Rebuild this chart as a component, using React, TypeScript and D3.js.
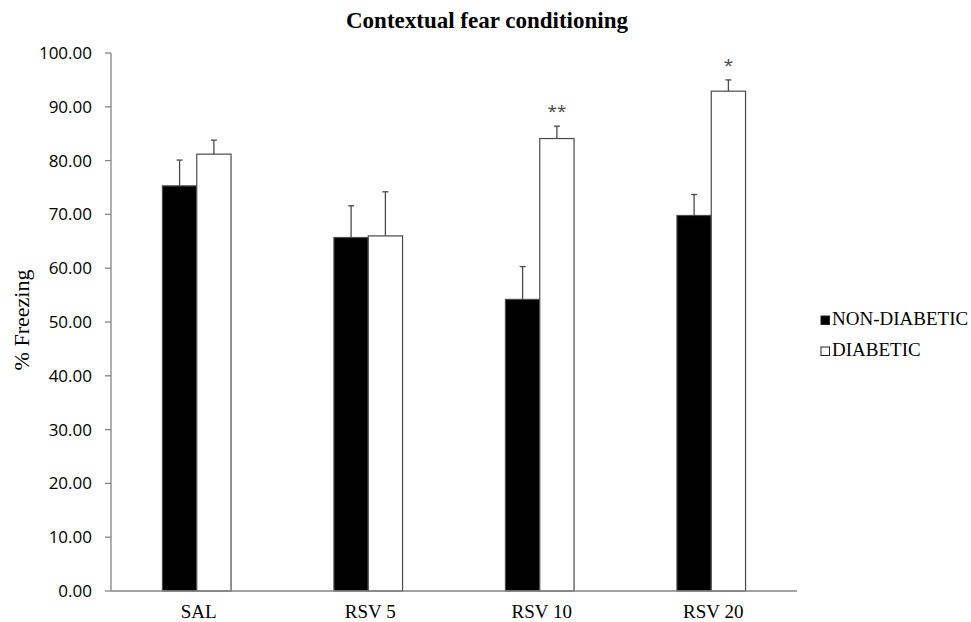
import React from 'react';
import * as d3 from 'd3';

// data
const categories = ['SAL', 'RSV 5', 'RSV 10', 'RSV 20'];
const groups = ['NON-DIABETIC', 'DIABETIC'];
const nonDiabetic = [75.3, 65.7, 54.2, 69.8];
const nonDiabeticErr = [4.8, 5.9, 6.1, 3.9];
const diabetic = [81.2, 66.0, 84.1, 92.9];
const diabeticErr = [2.6, 8.2, 2.3, 2.1];
const significance = ['', '', '**', '*'];
const yTicks = d3.range(0, 101, 10);

const W = 971;
const H = 622;
const margin = { top: 53, right: 174, bottom: 31, left: 111 };

const serif = '"Liberation Serif", "Times New Roman", serif';
const sans = '"Open Sans", "Liberation Sans", sans-serif';
const axisColor = '#858585';
const barStroke = '#4a4a4a';

export default function App() {
  const w = W - margin.left - margin.right;
  const h = H - margin.top - margin.bottom;

  const x = d3.scaleBand<string>().domain(categories).range([0, w]).paddingInner(0).paddingOuter(0);
  const x1 = d3.scaleBand<string>().domain(groups).range([0, x.bandwidth() * 0.4]);
  const y = d3.scaleLinear().domain([0, 100]).range([h, 0]);
  const off = (x.bandwidth() - x1.range()[1]) / 2;

  const series = [
    { key: groups[0], vals: nonDiabetic, errs: nonDiabeticErr, fill: '#000000' },
    { key: groups[1], vals: diabetic, errs: diabeticErr, fill: '#ffffff' },
  ];

  return (
    <svg width={W} height={H} style={{ position: 'absolute', left: 0, top: 0, background: '#fff' }}>
      <text x={487} y={28} textAnchor="middle" fontFamily={serif} fontWeight="bold" fontSize={23}>
        Contextual fear conditioning
      </text>

      <g transform={`translate(${margin.left},${margin.top})`}>
        {series.map(s => (
          <g key={s.key}>
            {categories.map((c, i) => {
              const bx = (x(c) as number) + off + (x1(s.key) as number);
              const bw = x1.bandwidth();
              const cx = bx + bw / 2;
              return (
                <g key={c}>
                  <line x1={cx} x2={cx} y1={y(s.vals[i])} y2={y(s.vals[i] + s.errs[i])} stroke={barStroke} strokeWidth={1.3} />
                  <line x1={cx - 3} x2={cx + 3} y1={y(s.vals[i] + s.errs[i])} y2={y(s.vals[i] + s.errs[i])} stroke={barStroke} strokeWidth={1.3} />
                  <rect x={bx} y={y(s.vals[i])} width={bw} height={h - y(s.vals[i])} fill={s.fill} stroke={barStroke} strokeWidth={1.2} />
                </g>
              );
            })}
          </g>
        ))}

        {categories.map((c, i) => significance[i] ? (
          <text key={c} x={(x(c) as number) + off + (x1(groups[1]) as number) + x1.bandwidth() / 2}
            y={y(diabetic[i] + diabeticErr[i]) - 9} textAnchor="middle" fontFamily={sans} fontSize={17} fill="#444">
            {significance[i]}
          </text>
        ) : null)}

        <line x1={0} x2={w} y1={h} y2={h} stroke={axisColor} strokeWidth={1.3} />
        <line x1={0} x2={0} y1={0} y2={h} stroke={axisColor} strokeWidth={1.3} />
        {yTicks.map(t => (
          <g key={t} transform={`translate(0,${y(t)})`}>
            <line x1={-6} x2={0} stroke={axisColor} strokeWidth={1.3} />
            <text x={-19} dy="0.35em" textAnchor="end" fontFamily={sans} fontSize={17} fill="#000">
              {t.toFixed(2)}
            </text>
          </g>
        ))}

        {categories.map(c => (
          <text key={c} x={(x(c) as number) + x.bandwidth() / 2 + 2} y={h + 27} textAnchor="middle" fontFamily={serif} fontSize={19}>
            {c}
          </text>
        ))}
      </g>

      <text transform={`translate(29,${margin.top + h / 2 - 2}) rotate(-90)`} textAnchor="middle" fontFamily={serif} fontSize={22}>
        % Freezing
      </text>

      <g transform="translate(821,0)">
        {series.map((s, i) => (
          <g key={s.key} transform={`translate(0,${325 + i * 31})`}>
            <rect x={0} y={-9} width={8.5} height={8.5} fill={s.fill} stroke="#222" strokeWidth={1} />
            <text x={11} y={0} fontFamily={serif} fontSize={19}>{s.key}</text>
          </g>
        ))}
      </g>
    </svg>
  );
}
